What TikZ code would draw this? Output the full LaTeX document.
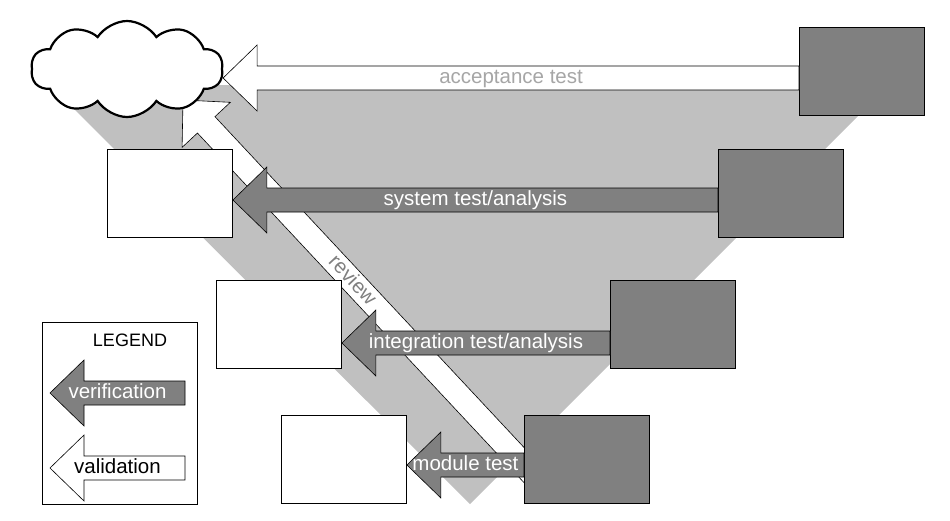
\documentclass[tikz,border=0pt]{standalone}
\usepackage{fontspec}
\setmainfont{Liberation Sans}
\usetikzlibrary{calc,shapes.symbols}
\definecolor{darkbox}{HTML}{808080}
\definecolor{vshade}{HTML}{C0C0C0}
\definecolor{softtext}{HTML}{A6A6A6}

\newcommand{\arrhead}{34pt}
\newcommand{\arrwing}{33pt}
\newcommand{\arrshaft}{12pt}
% block arrow from tail (#2) to tip (#3)
\newcommand{\blockarrow}[3][]{%
  \draw[#1] let \p1=(#2), \p2=(#3), \n1={atan2(\y1-\y2,\x1-\x2)} in
    (\p2) -- ($(\p2)+(\n1:\arrhead)+(\n1+90:\arrwing)$)
    -- ($(\p2)+(\n1:\arrhead)+(\n1+90:\arrshaft)$)
    -- ($(\p1)+(\n1+90:\arrshaft)$)
    -- ($(\p1)+(\n1-90:\arrshaft)$)
    -- ($(\p2)+(\n1:\arrhead)+(\n1-90:\arrshaft)$)
    -- ($(\p2)+(\n1:\arrhead)+(\n1-90:\arrwing)$) -- cycle;}

\tikzset{
  testbox/.style={draw=black,line width=1pt,fill=darkbox,minimum width=125pt,minimum height=88pt,inner sep=0pt},
  specbox/.style={draw=black,line width=0.8pt,fill=white,minimum width=125pt,minimum height=88pt,inner sep=0pt},
  verarrow/.style={draw=black,line width=0.6pt,fill=darkbox},
  valarrow/.style={draw=black,line width=0.6pt,fill=white},
  arrlabel/.style={inner sep=0pt,text height=15pt,text depth=4pt},
}

\begin{document}
\begin{tikzpicture}[x=1pt,y=-1pt,font=\fontsize{20.5}{24}\selectfont]
    \useasboundingbox (0,0) rectangle (950,520);
    \fill[vshade] (50,85) -- (889,85) -- (470,504) -- cycle;

    % review
    \coordinate (revTip) at (183,100);
    \coordinate (revTail) at (538,480);
    \blockarrow[valarrow]{revTail}{revTip}
    \path (revTail) -- (revTip) node[pos=0.524,sloped,arrlabel,text=darkbox] {review};

    \node[cloud,draw=black,line width=2.2pt,fill=white,cloud puffs=10,cloud puff arc=115,
      aspect=2,minimum width=192pt,minimum height=96pt,inner sep=0pt] (cloud) at (127,69) {};

    % test levels
    \node[testbox] (accBox) at (862,71) {};
    \node[testbox] (sysR) at (781,193) {};
    \node[specbox] (sysL) at (170,193) {};
    \node[testbox] (intR) at (673,324) {};
    \node[specbox] (intL) at (279,324) {};
    \node[testbox] (modR) at (587,459) {};
    \node[specbox] (modL) at (344,459) {};

    \blockarrow[verarrow]{[yshift=-7pt]sysR.west}{[yshift=-7pt]sysL.east}
    \path ([yshift=-7pt]sysR.west) -- ([yshift=-7pt]sysL.east)
      node[midway,arrlabel,text=white] {system test/analysis};
    \blockarrow[verarrow]{[yshift=-19pt]intR.west}{[yshift=-19pt]intL.east}
    \path ([yshift=-19pt]intR.west) -- ([yshift=-19pt]intL.east)
      node[midway,arrlabel,text=white] {integration test/analysis};
    \blockarrow[verarrow]{[yshift=-6pt]modR.west}{[yshift=-6pt]modL.east}
    \path ([yshift=-6pt]modR.west) -- ([yshift=-6pt]modL.east)
      node[midway,arrlabel,text=white] {module test};

    \blockarrow[valarrow]{[yshift=-7pt]accBox.west}{[yshift=-9pt]cloud.east}
    \path ([yshift=-7pt]accBox.west) -- ([yshift=-9pt]cloud.east)
      node[midway,arrlabel,text=softtext] {acceptance test};

    % legend
    \node[draw=black,line width=0.8pt,minimum width=155pt,minimum height=182pt,inner sep=0pt] (legend) at (120,413) {};
    \node[font=\fontsize{18}{21}\selectfont] (legendTitle) at (130,340) {LEGEND};
    \coordinate (verTip) at (50,393);
    \coordinate (verTail) at (185,393);
    \coordinate (valTip) at (50,468);
    \coordinate (valTail) at (185,468);
    \blockarrow[verarrow]{verTail}{verTip}
    \path (verTail) -- (verTip) node[midway,arrlabel,text=white] {verification};
    \blockarrow[valarrow]{valTail}{valTip}
    \path (valTail) -- (valTip) node[midway,arrlabel] {validation};
\end{tikzpicture}
\end{document}
